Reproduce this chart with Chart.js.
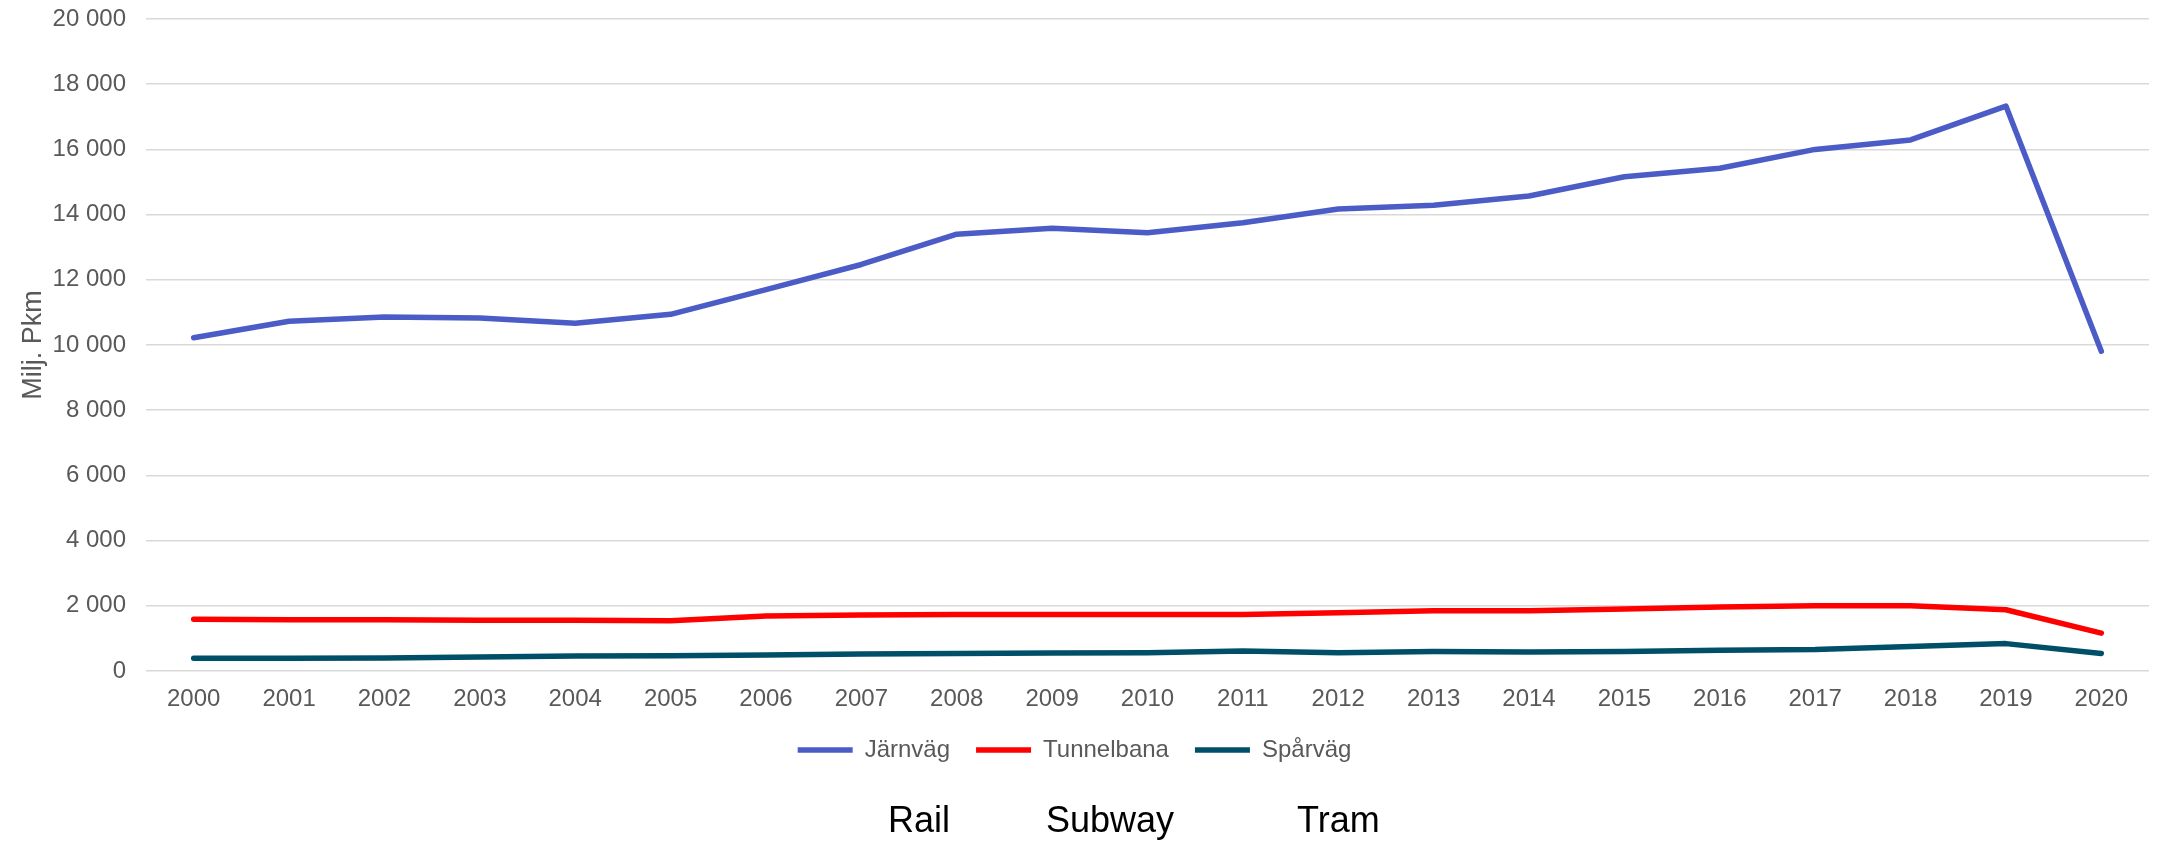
<!DOCTYPE html>
<html>
<head>
<meta charset="utf-8">
<script src="https://cdn.jsdelivr.net/npm/chart.js@4"></script>
<style>
  html, body { margin: 0; padding: 0; background: #fff; }
  #wrap { position: relative; width: 2159px; height: 843px; }
  .note { position: absolute; top: 802px; font: 36px "Liberation Sans", Arial, sans-serif; line-height: 36px; color: #000; }
</style>
</head>
<body>
<div id="wrap">
  <canvas id="chart"></canvas>
  <span class="note" style="left:888px">Rail</span>
  <span class="note" style="left:1046px">Subway</span>
  <span class="note" style="left:1297px">Tram</span>
</div>
<script>
const years = ['2000', '2001', '2002', '2003', '2004', '2005', '2006', '2007', '2008', '2009', '2010',
    '2011', '2012', '2013', '2014', '2015', '2016', '2017', '2018', '2019', '2020'];

// Milj. personkilometer
const jarnvag = [10220, 10730, 10860, 10830, 10670, 10940, 11700, 12470, 13400, 13580, 13440,
    13750, 14170, 14290, 14570, 15160, 15420, 16000, 16290, 17330, 9810];
const tunnelbana = [1590, 1570, 1570, 1560, 1560, 1540, 1690, 1720, 1730, 1730, 1730,
    1730, 1790, 1850, 1850, 1900, 1960, 2000, 2000, 1880, 1160];
const sparvag = [390, 390, 400, 430, 460, 470, 490, 520, 540, 550, 560,
    610, 560, 600, 580, 600, 640, 660, 750, 840, 540];

const seriesNames = ['Järnväg', 'Tunnelbana', 'Spårväg'];

const gray = '#595959';
const font = 'Liberation Sans';

const formatThousands = v => String(v).replace(/\B(?=(\d{3})+(?!\d))/g, ' ');

const line = (label, data, color) => ({
    label: label,
    data: data,
    borderColor: color,
    backgroundColor: color,
    borderWidth: 5.5,
    borderCapStyle: 'round',
    borderJoinStyle: 'round',
    pointRadius: 0,
    pointHoverRadius: 0,
    pointStyle: 'line',
    tension: 0,
    fill: false
});

const ctx = document.getElementById('chart').getContext('2d');
new Chart(ctx, {
    type: 'line',
    data: {
        labels: years,
        datasets: [
            line(seriesNames[0], jarnvag, '#4b5cc7'),
            line(seriesNames[1], tunnelbana, '#ff0000'),
            line(seriesNames[2], sparvag, '#004f68')
        ]
    },
    options: {
        responsive: true,
        maintainAspectRatio: false,
        animation: false,
        layout: { padding: { top: 19, right: 10, bottom: 71, left: 0 } },
        plugins: {
            tooltip: { enabled: false },
            legend: {
                position: 'bottom',
                labels: {
                    usePointStyle: true,
                    pointStyleWidth: 55,
                    padding: 26,
                    color: gray,
                    font: { family: font, size: 24 }
                }
            }
        },
        scales: {
            x: {
                offset: true,
                grid: { display: false },
                border: { display: false },
                ticks: { color: gray, padding: 6, maxRotation: 0, autoSkip: false, font: { family: font, size: 24 } },
                afterFit: scale => { scale.height = 41; }
            },
            y: {
                min: 0,
                max: 20000,
                border: { display: false },
                grid: { color: '#d9d9d9', lineWidth: 1.5, drawTicks: false },
                ticks: { stepSize: 2000, color: gray, padding: 20, font: { family: font, size: 24 }, callback: v => formatThousands(v) },
                title: { display: true, text: 'Milj. Pkm', color: gray, padding: { top: 17, bottom: 0 }, font: { family: font, size: 27 } },
                afterFit: scale => {
                    scale.width = 146;
                    scale.paddingTop = 0;
                    scale.paddingBottom = 0;
                }
            }
        }
    }
});
</script>
</body>
</html>
